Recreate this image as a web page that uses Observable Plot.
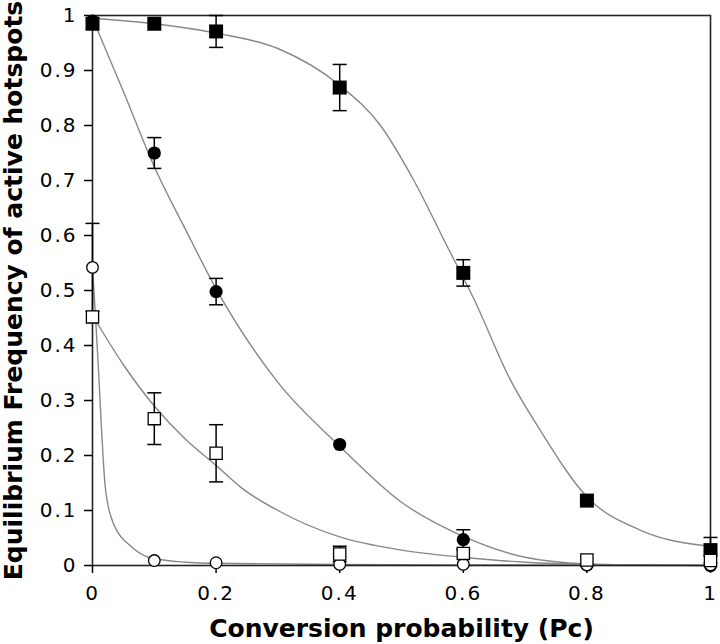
<!DOCTYPE html>
<html><head><meta charset="utf-8">
<script src="https://cdn.jsdelivr.net/npm/d3@7"></script>
<script src="https://cdn.jsdelivr.net/npm/@observablehq/plot@0.6"></script>
<style>
body{margin:0;background:#fff;}
svg{font-family:"DejaVu Sans",Verdana,sans-serif;}
g[aria-label="x-axis tick label"] text, g[aria-label="y-axis tick label"] text{letter-spacing:2px;}
</style>
</head><body><div id="chart"></div>
<script>
// --- Data ---
const pc = [0, 0.1, 0.2, 0.4, 0.6, 0.8, 1];
const filledSquares    = [0.985, 0.985, 0.971, 0.869, 0.532, 0.118, 0.028];
const filledSquaresErr = [0, 0, 0.029, 0.042, 0.024, 0, 0.023];
const filledCircles    = [0.99, 0.75, 0.498, 0.22, 0.047, 0.001, 0.0];
const filledCirclesErr = [0, 0.028, 0.024, 0, 0.018, 0, 0];
const openSquares      = [0.452, 0.267, 0.204, 0.021, 0.022, 0.010, 0.009];
const openSquaresErr   = [0, 0.047, 0.052, 0.014, 0, 0, 0];
const openCircles      = [0.542, 0.009, 0.005, 0.002, 0.002, 0.001, 0.001];
const openCirclesErr   = [0.08, 0, 0, 0, 0, 0, 0];

// fitted curves
const fit1X = [0, 0.1, 0.2, 0.3, 0.4, 0.466, 0.52, 0.574, 0.617, 0.676, 0.725, 0.8, 0.887, 1];
const fit1Y = [0.995, 0.985, 0.968, 0.94, 0.873, 0.8, 0.70, 0.58, 0.485, 0.338, 0.245, 0.125, 0.064, 0.035];
const fit2X = [0, 0.05, 0.1, 0.15, 0.2, 0.3, 0.4, 0.5, 0.6, 0.7, 0.8, 0.9, 1];
const fit2Y = [0.995, 0.862, 0.725, 0.612, 0.503, 0.333, 0.217, 0.115, 0.053, 0.015, 0.003, 0.001, 0];
const fit3X = [0, 0.05, 0.1, 0.15, 0.2, 0.24, 0.3, 0.4, 0.5, 0.6, 0.7, 0.8, 1];
const fit3Y = [0.455, 0.365, 0.29, 0.23, 0.182, 0.142, 0.1, 0.052, 0.028, 0.015, 0.006, 0.002, 0];
const fit4X = [0, 0.005, 0.01, 0.014, 0.017, 0.02, 0.025, 0.031, 0.04, 0.058, 0.091, 0.15, 0.2, 0.4, 0.6, 1];
const fit4Y = [0.542, 0.45, 0.35, 0.26, 0.2, 0.15, 0.11, 0.085, 0.062, 0.039, 0.015, 0.006, 0.004, 0.002, 0.001, 0];

const xTicks = [0, 0.2, 0.4, 0.6, 0.8, 1];
const yTicks = [0, 0.1, 0.2, 0.3, 0.4, 0.5, 0.6, 0.7, 0.8, 0.9, 1];
const xTitle = "Conversion probability (Pc)";
const yTitle = "Equilibrium Frequency of active hotspots";

// --- Build tables ---
const fits = [[fit1X, fit1Y, "s1"], [fit2X, fit2Y, "s2"], [fit3X, fit3Y, "s3"], [fit4X, fit4Y, "s4"]];
const lineData = fits.flatMap(([xs, ys, s]) => xs.map((x, i) => ({x, y: ys[i], s})));
const pts = vals => pc.map((x, i) => ({x, y: vals[i]}));
const errs = (vals, e) => pc.map((x, i) => ({x, lo: vals[i] - e[i], hi: vals[i] + e[i], e: e[i]})).filter(d => d.e > 0);
const errData = [
  ...errs(filledSquares, filledSquaresErr),
  ...errs(filledCircles, filledCirclesErr),
  ...errs(openSquares, openSquaresErr),
  ...errs(openCircles, openCirclesErr)
];
const capSymbol = {draw(ctx, size) { const h = Math.sqrt(size / Math.PI); ctx.moveTo(-h, 0); ctx.lineTo(h, 0); }};
const fmt = d => String(+d.toFixed(1));

const chart = Plot.plot({
  width: 720, height: 644,
  marginLeft: 92, marginRight: 10, marginTop: 15, marginBottom: 79,
  style: {fontFamily: "DejaVu Sans", fontSize: "20px", color: "black", background: "white"},
  x: {domain: [0, 1]},
  y: {domain: [0, 1]},
  marks: [
    Plot.line(lineData, {x: "x", y: "y", z: "s", stroke: "#888", strokeWidth: 1.4, curve: "monotone-x"}),
    Plot.frame({stroke: "#222", strokeWidth: 1.6}),
    Plot.axisX({ticks: xTicks, tickSize: 8, tickPadding: 12, tickFormat: fmt, fontSize: 20, strokeWidth: 1.5, label: null}),
    Plot.axisY({ticks: yTicks, tickSize: 8, tickPadding: 7, tickFormat: fmt, fontSize: 20, strokeWidth: 1.5, label: null}),
    Plot.ruleX(errData, {x: "x", y1: "lo", y2: "hi", stroke: "black", strokeWidth: 1.5}),
    Plot.dot(errData, {x: "x", y: "hi", symbol: capSymbol, r: 7, stroke: "black", strokeWidth: 1.5}),
    Plot.dot(errData, {x: "x", y: "lo", symbol: capSymbol, r: 7, stroke: "black", strokeWidth: 1.5}),
    Plot.dot(pts(filledCircles), {x: "x", y: "y", symbol: "circle", r: 6.6, fill: "black", stroke: "none"}),
    Plot.dot(pts(filledSquares), {x: "x", y: "y", symbol: "square", r: 7.9, fill: "black", stroke: "none"}),
    Plot.dot(pts(openCircles), {x: "x", y: "y", symbol: "circle", r: 5.8, fill: "white", stroke: "black", strokeWidth: 1.3}),
    Plot.dot(pts(openSquares), {x: "x", y: "y", symbol: "square", r: 6.9, fill: "white", stroke: "black", strokeWidth: 1.3}),
    Plot.text([xTitle], {text: d => d, frameAnchor: "bottom", lineAnchor: "middle", textAnchor: "middle", dy: 63, fontSize: 25, fontWeight: "bold", fill: "black"}),
    Plot.text([yTitle], {text: d => d, frameAnchor: "left", lineAnchor: "middle", textAnchor: "middle", rotate: -90, dx: -79, fontSize: 25, fontWeight: "bold", fill: "black"})
  ]
});
document.getElementById("chart").appendChild(chart);
</script>
</body></html>
